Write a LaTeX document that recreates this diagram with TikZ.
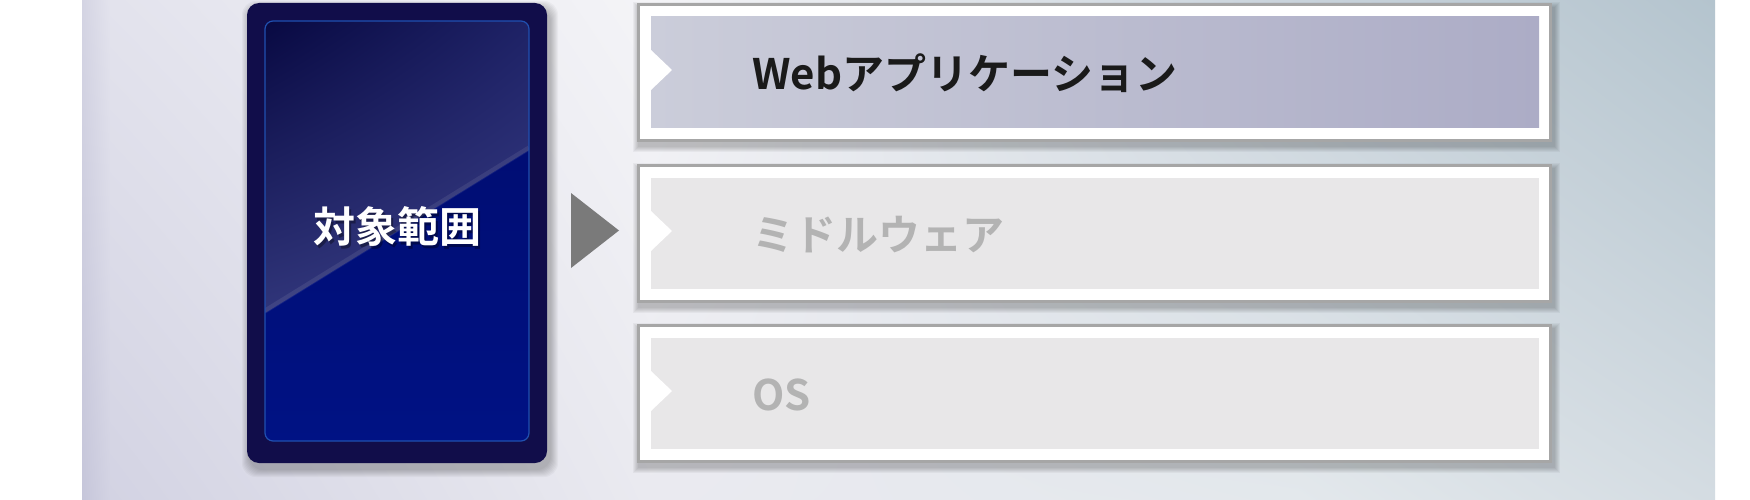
\documentclass[tikz,border=0pt]{standalone}
\usepackage{fontspec}
\usetikzlibrary{shadings}
\newfontfamily\jpb{Noto Sans CJK JP Bold}
\definecolor{pA1}{HTML}{D4D4E3}
\definecolor{pA2}{HTML}{C6C6DA}
\definecolor{pB1}{HTML}{E3E3ED}
\definecolor{pB2}{HTML}{D3D3E3}
\definecolor{pC1}{HTML}{F4F4F7}
\definecolor{pC2}{HTML}{EAEAF0}
\definecolor{pD1}{HTML}{C9D3DB}
\definecolor{pD2}{HTML}{E3E8EC}
\definecolor{pE1}{HTML}{B4C4CE}
\definecolor{pE2}{HTML}{D4DCE2}
\definecolor{cardOuter}{HTML}{110D4A}
\definecolor{cardLine}{HTML}{2050B0}
\definecolor{cardLowTop}{HTML}{000B6C}
\definecolor{cardLowBot}{HTML}{001284}
\definecolor{cardUL}{HTML}{080942}
\definecolor{cardUR}{HTML}{1E2266}
\definecolor{cardLL}{HTML}{30357A}
\definecolor{cardLR}{HTML}{3A3F88}
\definecolor{frameGray}{HTML}{A6A6A6}
\definecolor{topL}{HTML}{CBCDDA}
\definecolor{topR}{HTML}{ACACC6}
\definecolor{lgray}{HTML}{E8E7E8}
\definecolor{txtGray}{HTML}{B3B3B3}
\definecolor{txtDark}{HTML}{1A1A1A}
\definecolor{arrowGray}{HTML}{7A7A7A}
\newcommand\mylayer[5]{%
  \foreach \i in {1,...,6}{
    \fill[black,opacity=0.04] ({637-\i+2},{#1-3-\i+5}) rectangle ({1552+\i+2},{#1+136+\i+4});
  }
  \fill[frameGray] (637,{#1-3}) rectangle (1552,{#1+136});
  \fill[white] (640,#1) rectangle (1549,{#1+133});
  \path[#3] (651,{#1+11}) rectangle (1539,{#1+122});
  \fill[white] (651,{#1+44}) -- (672,{#1+64}) -- (651,{#1+84}) -- cycle;
  \node[layertext,text=#5,anchor=base west] (#2) at (752,{#1+83.5}) {#4};
}
\begin{document}
\begin{tikzpicture}[x=1pt,y=-1pt,
  layertext/.style={inner sep=0pt,font=\jpb\fontsize{42}{50}\selectfont},
  cardtext/.style={inner sep=0pt,font=\jpb\fontsize{42}{50}\selectfont}]
\useasboundingbox (0,0) rectangle (1750,500);
\fill[white] (0,0) rectangle (1750,500);
% background panel
\shade[upper left=pA1, lower left=pA2, upper right=pB1, lower right=pB2] (82,0) rectangle (110.5,500);
\shade[upper left=pB1, lower left=pB2, upper right=pC1, lower right=pC2] (110,0) rectangle (650.5,500);
\shade[upper left=pC1, lower left=pC2, upper right=pD1, lower right=pD2] (650,0) rectangle (1300.5,500);
\shade[upper left=pD1, lower left=pD2, upper right=pE1, lower right=pE2] (1300,0) rectangle (1715,500);
% card shadow
\foreach \i in {1,...,8}{
  \fill[black,opacity=0.03,rounded corners=14] ({247-\i+3},{3-\i+6}) rectangle ({547+\i+3},{463+\i+6});
}
% card
\node[fill=cardOuter,rounded corners=12,inner sep=0pt,minimum width=300,minimum height=460] (card) at (397,233) {};
\begin{scope}
  \clip[rounded corners=8] (265,21) rectangle (529,441);
  \shade[top color=cardLowTop, bottom color=cardLowBot] (265,21) rectangle (529,441);
  \shade[upper left=cardUL, upper right=cardUR, lower left=cardLL, lower right=cardLR]
    (265,21) -- (529,21) -- (529,150) -- (265,313) -- cycle;
  \draw[white,opacity=0.08,line width=5] (265,311) -- (529,148);
\end{scope}
\draw[cardLine,line width=1.2,rounded corners=8] (265,21) rectangle (529,441);
\node[cardtext,text=black,opacity=0.35,anchor=base] at (399.5,245.5) {対象範囲};
\node[cardtext,text=white,anchor=base] (scope) at (397,242) {対象範囲};
% arrow
\fill[arrowGray] (571,193) -- (619,230.5) -- (571,268) -- cycle;
% layers
\mylayer{6}{web}{left color=topL, right color=topR}{Webアプリケーション}{txtDark}
\mylayer{167}{mid}{fill=lgray}{ミドルウェア}{txtGray}
\mylayer{327}{os}{fill=lgray}{OS}{txtGray}
\end{tikzpicture}
\end{document}
